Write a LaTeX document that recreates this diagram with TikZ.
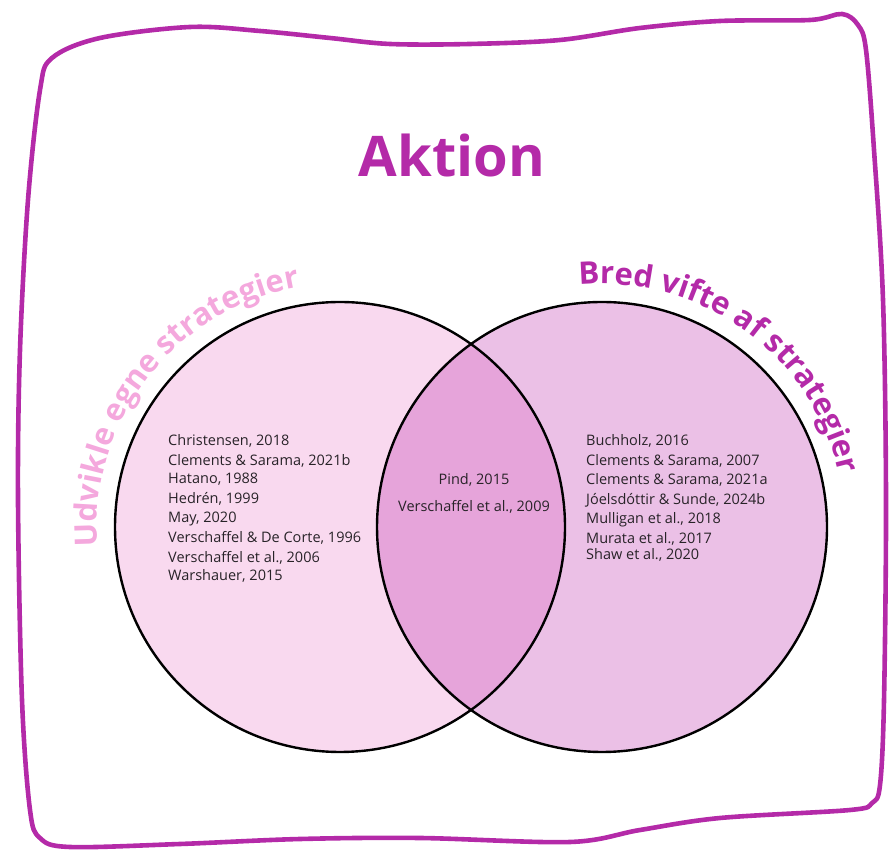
\documentclass[tikz,border=0pt]{standalone}
\usepackage{fontspec}
\setmainfont{Open Sans}
\usetikzlibrary{decorations.text,calc}
\definecolor{frame}{RGB}{180,42,168}
\definecolor{lbl}{RGB}{244,168,221}
\definecolor{leftfill}{RGB}{249,217,239}
\definecolor{rightfill}{RGB}{235,192,230}
\definecolor{overlap}{RGB}{230,164,218}
\definecolor{citec}{RGB}{40,35,40}
\begin{document}
\begin{tikzpicture}[x=1pt,y=1pt,
  cite/.style={anchor=base west, inner sep=0pt, text=citec, font=\fontsize{14.5}{16}\selectfont},
  citec/.style={anchor=base, inner sep=0pt, text=citec, font=\fontsize{14.5}{16}\selectfont},
  ring/.style={draw=black, line width=2.4pt},
  border/.style={draw=frame, line width=4.6pt, line join=round, line cap=round}]
\useasboundingbox (0,0) rectangle (890,850);
% frame
\draw[border] plot[smooth cycle, tension=0.55] coordinates {
 (40,760) (52,792) (100,812) (190,823) (260,819) (330,812) (390,806) (470,806)
 (560,810) (640,822) (720,829) (810,830) (842,836) (858,825) (866,800)
 (874,700) (883,550) (886,350) (884,150) (880,65) (872,47) (850,40)
 (720,32) (640,20) (570,8) (420,12) (300,11) (180,6) (70,3) (40,12)
 (30,40) (22,150) (18,350) (20,500) (28,650)};
% title
\node[anchor=base, inner sep=0pt, text=frame, font=\fontsize{56}{60}\selectfont\bfseries] (title) at (452,673) {Aktion};
% circles
\coordinate (L) at (340,323);
\coordinate (R) at (602,323);
\fill[leftfill] (L) circle[radius=225];
\fill[rightfill] (R) circle[radius=225];
\begin{scope}
  \clip (L) circle[radius=225];
  \fill[overlap] (R) circle[radius=225];
\end{scope}
\draw[ring] (L) circle[radius=225];
\draw[ring] (R) circle[radius=225];
% curved labels
\path[decorate, decoration={text along path, text align=center, text color=lbl,
  text={|\fontsize{31}{31}\selectfont\bfseries|Udvikle egne strategier}}]
  ($(L)+(202:243)$) arc[start angle=202, end angle=82, radius=243];
\path[decorate, decoration={text along path, text align=center, text color=frame,
  text={|\fontsize{31}{31}\selectfont\bfseries|Bred vifte af strategier}}]
  ($(R)+(114:243)$) arc[start angle=114, end angle=-6, radius=243];
% left list
\node[cite] (l1) at (168,404) {Christensen, 2018};
\node[cite] (l2) at (168,384) {Clements \& Sarama, 2021b};
\node[cite] (l3) at (168,366) {Hatano, 1988};
\node[cite] (l4) at (168,346) {Hedrén, 1999};
\node[cite] (l5) at (168,327) {May, 2020};
\node[cite] (l6) at (168,307) {Verschaffel \& De Corte, 1996};
\node[cite] (l7) at (168,287) {Verschaffel et al., 2006};
\node[cite] (l8) at (168,269) {Warshauer, 2015};
% middle
\node[citec] (m1) at (474,365) {Pind, 2015};
\node[citec] (m2) at (474,338) {Verschaffel et al., 2009};
% right list
\node[cite] (r1) at (586,404) {Buchholz, 2016};
\node[cite] (r2) at (586,384) {Clements \& Sarama, 2007};
\node[cite] (r3) at (586,365) {Clements \& Sarama, 2021a};
\node[cite] (r4) at (586,345) {Jóelsdóttir \& Sunde, 2024b};
\node[cite] (r5) at (586,326) {Mulligan et al., 2018};
\node[cite] (r6) at (586,306) {Murata et al., 2017};
\node[cite] (r7) at (586,290) {Shaw et al., 2020};
\end{tikzpicture}
\end{document}
